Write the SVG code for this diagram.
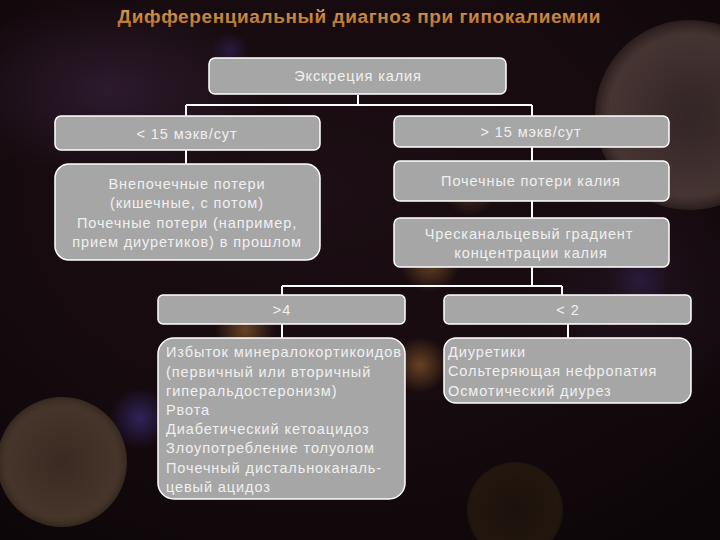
<svg xmlns="http://www.w3.org/2000/svg" width="720" height="540" viewBox="0 0 720 540">
  <defs>
    <radialGradient id="bg" cx="0.45" cy="0.35" r="0.8">
      <stop offset="0" stop-color="#1c0e14"/>
      <stop offset="0.6" stop-color="#150a0e"/>
      <stop offset="1" stop-color="#0c0608"/>
    </radialGradient>
    <radialGradient id="haze1" cx="0.5" cy="0.5" r="0.5">
      <stop offset="0" stop-color="#3a2440" stop-opacity="0.6"/>
      <stop offset="1" stop-color="#3a2440" stop-opacity="0"/>
    </radialGradient>
    <radialGradient id="bokehTR" cx="0.5" cy="0.5" r="0.5">
      <stop offset="0" stop-color="#5a4644" stop-opacity="0.45"/>
      <stop offset="0.85" stop-color="#6e5850" stop-opacity="0.55"/>
      <stop offset="1" stop-color="#806858" stop-opacity="0.2"/>
    </radialGradient>
    <radialGradient id="bokehBL" cx="0.5" cy="0.5" r="0.5">
      <stop offset="0" stop-color="#3a2a22"/>
      <stop offset="0.85" stop-color="#46352a"/>
      <stop offset="1" stop-color="#5a4632" stop-opacity="0.5"/>
    </radialGradient>
    <radialGradient id="bokehBR" cx="0.5" cy="0.5" r="0.5">
      <stop offset="0" stop-color="#1c110c"/>
      <stop offset="0.9" stop-color="#22160e"/>
      <stop offset="1" stop-color="#2e2212" stop-opacity="0.4"/>
    </radialGradient>
    <radialGradient id="orange" cx="0.5" cy="0.5" r="0.5">
      <stop offset="0" stop-color="#8a5a2a" stop-opacity="0.7"/>
      <stop offset="1" stop-color="#8a5a2a" stop-opacity="0"/>
    </radialGradient>
    <radialGradient id="purple" cx="0.5" cy="0.5" r="0.5">
      <stop offset="0" stop-color="#3c2c7a" stop-opacity="0.7"/>
      <stop offset="1" stop-color="#3c2c7a" stop-opacity="0"/>
    </radialGradient>
    <linearGradient id="titleGrad" x1="0" y1="0" x2="0" y2="1">
      <stop offset="0" stop-color="#e0a055"/>
      <stop offset="1" stop-color="#b0702c"/>
    </linearGradient>
    <style>
      .box { fill: #a6a6a6; stroke: #ffffff; stroke-width: 1.5; }
      .t { font-family: "Liberation Sans", Arial, sans-serif; font-size: 14.5px; letter-spacing: 0.9px; fill: #f0f0f0; }
      .c { text-anchor: middle; }
      .conn { stroke: #ffffff; stroke-width: 2; fill: none; }
      .title { font-family: "Liberation Sans", Arial, sans-serif; font-size: 19px; font-weight: bold; fill: url(#titleGrad); text-anchor: middle; }
    </style>
  </defs>

  <!-- background -->
  <rect x="0" y="0" width="720" height="540" fill="url(#bg)"/>
  <ellipse cx="110" cy="90" rx="160" ry="90" fill="url(#haze1)"/>
  <ellipse cx="640" cy="300" rx="120" ry="120" fill="url(#haze1)" opacity="0.5"/>
  <circle cx="690" cy="115" r="95" fill="url(#bokehTR)"/>
  <circle cx="62" cy="462" r="65" fill="url(#bokehBL)"/>
  <circle cx="140" cy="418" r="30" fill="url(#purple)"/>
  <circle cx="515" cy="510" r="48" fill="url(#bokehBR)"/>
  <circle cx="420" cy="365" r="28" fill="url(#orange)"/>
  <circle cx="430" cy="262" r="30" fill="url(#orange)"/>
  <circle cx="245" cy="330" r="30" fill="url(#orange)"/>
  <circle cx="470" cy="190" r="26" fill="url(#orange)" opacity="0.6"/>
  <circle cx="230" cy="50" r="18" fill="url(#purple)" opacity="0.6"/>
  <circle cx="640" cy="280" r="30" fill="url(#purple)" opacity="0.5"/>

  <!-- title -->
  <text class="title" x="359" y="23" textLength="483" lengthAdjust="spacing">Дифференциальный диагноз при гипокалиемии</text>

  <!-- connectors -->
  <g id="connectors">
    <path class="conn" d="M358,95 V105 M186,105 H532 M186,105 V116 M532,105 V116"/>
    <path class="conn" d="M186,150 V164"/>
    <path class="conn" d="M532,147 V161"/>
    <path class="conn" d="M532,201 V218"/>
    <path class="conn" d="M532,267 V286 M282,286 H562 M282,286 V295 M562,286 V295"/>
    <path class="conn" d="M282,324 V338"/>
    <path class="conn" d="M568,324 V338"/>
  </g>

  <g id="n-excretion">
    <rect class="box" x="209" y="58" width="297" height="36" rx="6"/>
    <text class="t c" x="358" y="81">Экскреция калия</text>
  </g>

  <g id="n-lt15">
    <rect class="box" x="55" y="116" width="265" height="34" rx="6"/>
    <text class="t c" x="187" y="139">&lt; 15 мэкв/сут</text>
  </g>

  <g id="n-gt15">
    <rect class="box" x="394" y="116" width="275" height="31" rx="6"/>
    <text class="t c" x="531" y="137">&gt; 15 мэкв/сут</text>
  </g>

  <g id="n-extrarenal">
    <rect class="box" x="55" y="164" width="265" height="96" rx="14"/>
    <text class="t c" x="187" y="189">Внепочечные потери</text>
    <text class="t c" x="187" y="208">(кишечные, с потом)</text>
    <text class="t c" x="187" y="228">Почечные потери (например,</text>
    <text class="t c" x="187" y="247">прием диуретиков) в прошлом</text>
  </g>

  <g id="n-renal">
    <rect class="box" x="394" y="161" width="275" height="40" rx="6"/>
    <text class="t c" x="531" y="186">Почечные потери калия</text>
  </g>

  <g id="n-gradient">
    <rect class="box" x="394" y="218" width="275" height="49" rx="6"/>
    <text class="t c" x="529" y="239">Чресканальцевый градиент</text>
    <text class="t c" x="531" y="258">концентрации калия</text>
  </g>

  <g id="n-gt4">
    <rect class="box" x="158" y="295" width="247" height="29" rx="5"/>
    <text class="t c" x="282" y="315">&gt;4</text>
  </g>

  <g id="n-lt2">
    <rect class="box" x="444" y="295" width="247" height="29" rx="5"/>
    <text class="t c" x="568" y="315">&lt; 2</text>
  </g>

  <g id="n-causes-gt4">
    <rect class="box" x="158" y="338" width="247" height="161" rx="16"/>
    <text class="t" x="166" y="357">Избыток минералокортикоидов</text>
    <text class="t" x="166" y="377">(первичный или вторичный</text>
    <text class="t" x="166" y="396">гиперальдостеронизм)</text>
    <text class="t" x="166" y="415">Рвота</text>
    <text class="t" x="166" y="434">Диабетический кетоацидоз</text>
    <text class="t" x="166" y="453">Злоупотребление толуолом</text>
    <text class="t" x="166" y="473">Почечный дистальноканаль-</text>
    <text class="t" x="166" y="492">цевый ацидоз</text>
  </g>

  <g id="n-causes-lt2">
    <rect class="box" x="444" y="338" width="247" height="65" rx="12"/>
    <text class="t" x="448" y="357">Диуретики</text>
    <text class="t" x="448" y="376">Сольтеряющая нефропатия</text>
    <text class="t" x="448" y="396">Осмотический диурез</text>
  </g>
</svg>
